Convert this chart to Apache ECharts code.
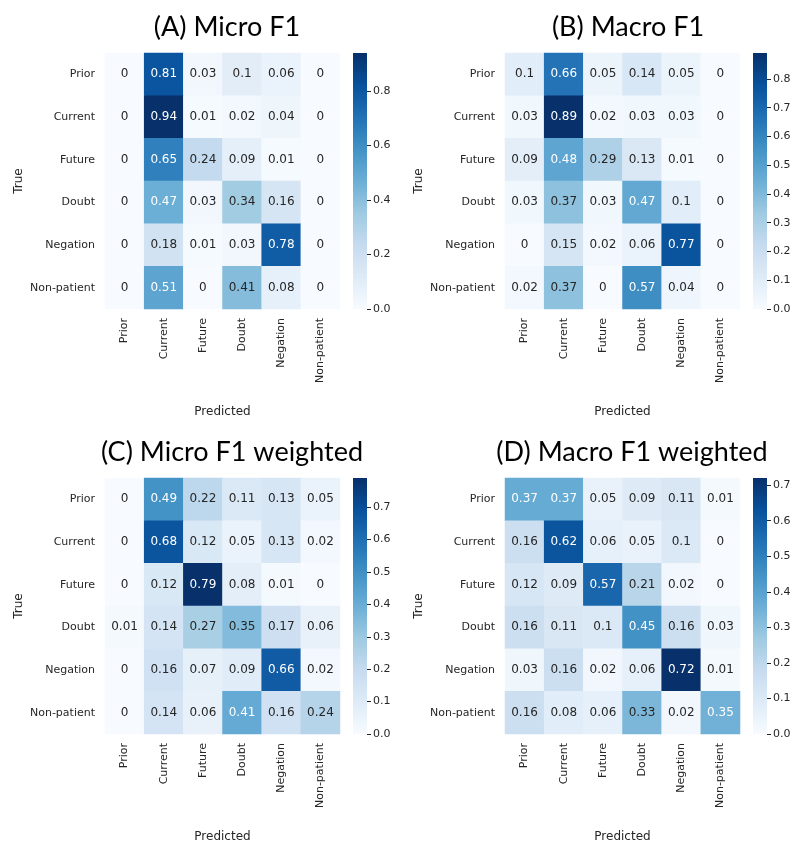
<!DOCTYPE html>
<html>
<head>
<meta charset="utf-8">
<script src="https://cdn.jsdelivr.net/npm/echarts@6/dist/echarts.min.js"></script>
<style>
  html, body { margin: 0; padding: 0; background: #fff; }
  #main { width: 797px; height: 846px; }
</style>
</head>
<body>
<div id="main"></div>
<script>
  const classes = ['Prior', 'Current', 'Future', 'Doubt', 'Negation', 'Non-patient']
  const titles = ['(A) Micro F1', '(B) Macro F1', '(C) Micro F1 weighted', '(D) Macro F1 weighted']

  // rows = true class, columns = predicted class
  const microF1 = [
    [0, 0.81, 0.03, 0.1, 0.06, 0],
    [0, 0.94, 0.01, 0.02, 0.04, 0],
    [0, 0.65, 0.24, 0.09, 0.01, 0],
    [0, 0.47, 0.03, 0.34, 0.16, 0],
    [0, 0.18, 0.01, 0.03, 0.78, 0],
    [0, 0.51, 0, 0.41, 0.08, 0]
  ]
  const macroF1 = [
    [0.1, 0.66, 0.05, 0.14, 0.05, 0],
    [0.03, 0.89, 0.02, 0.03, 0.03, 0],
    [0.09, 0.48, 0.29, 0.13, 0.01, 0],
    [0.03, 0.37, 0.03, 0.47, 0.1, 0],
    [0, 0.15, 0.02, 0.06, 0.77, 0],
    [0.02, 0.37, 0, 0.57, 0.04, 0]
  ]
  const microF1Weighted = [
    [0, 0.49, 0.22, 0.11, 0.13, 0.05],
    [0, 0.68, 0.12, 0.05, 0.13, 0.02],
    [0, 0.12, 0.79, 0.08, 0.01, 0],
    [0.01, 0.14, 0.27, 0.35, 0.17, 0.06],
    [0, 0.16, 0.07, 0.09, 0.66, 0.02],
    [0, 0.14, 0.06, 0.41, 0.16, 0.24]
  ]
  const macroF1Weighted = [
    [0.37, 0.37, 0.05, 0.09, 0.11, 0.01],
    [0.16, 0.62, 0.06, 0.05, 0.1, 0],
    [0.12, 0.09, 0.57, 0.21, 0.02, 0],
    [0.16, 0.11, 0.1, 0.45, 0.16, 0.03],
    [0.03, 0.16, 0.02, 0.06, 0.72, 0.01],
    [0.16, 0.08, 0.06, 0.33, 0.02, 0.35]
  ]

  // colorbar range and ticks per panel
  const barMax = [0.94, 0.89, 0.79, 0.72]
  const barTicksA = [0, 0.2, 0.4, 0.6, 0.8]
  const barTicksB = [0, 0.1, 0.2, 0.3, 0.4, 0.5, 0.6, 0.7, 0.8]
  const barTicksC = [0, 0.1, 0.2, 0.3, 0.4, 0.5, 0.6, 0.7]
  const barTicksD = [0, 0.1, 0.2, 0.3, 0.4, 0.5, 0.6, 0.7]

  const matrices = [microF1, macroF1, microF1Weighted, macroF1Weighted]
  const barTicks = [barTicksA, barTicksB, barTicksC, barTicksD]

  // matplotlib "Blues"
  const blues = ['#f7fbff', '#deebf7', '#c6dbef', '#9ecae1', '#6baed6', '#4292c6', '#2171b5', '#08519c', '#08306b']

  const panels = [
    {left: 105, top: 53, title: 222},
    {left: 505, top: 53, title: 623},
    {left: 105, top: 478, title: 227},
    {left: 505, top: 478, title: 627}
  ]
  const cellW = 235
  const cellH = 256
  const txt = '#262626'

  const myChart = echarts.init(document.getElementById('main'))

  let grid = []
  let xAxis = []
  let yAxis = []
  let series = []
  let visualMap = []
  let title = []

  panels.forEach((p, i) => {
    const max = barMax[i]
    title.push({
      text: titles[i],
      left: p.title,
      top: p.top - 44,
      textAlign: 'center',
      textStyle: {fontFamily: 'Lato', fontSize: 27, fontWeight: 'normal', color: '#000'}
    })
    // heatmap grid
    grid.push({left: p.left, top: p.top, width: cellW, height: cellH})
    xAxis.push({
      type: 'category',
      gridIndex: i * 2,
      data: classes,
      name: 'Predicted',
      nameLocation: 'middle',
      nameGap: 97,
      nameTextStyle: {color: txt, fontSize: 12, fontFamily: 'DejaVu Sans'},
      axisLine: {show: false},
      axisTick: {show: false},
      splitLine: {show: false},
      axisLabel: {interval: 0, rotate: 90, margin: 9, color: txt, fontSize: 11, fontFamily: 'DejaVu Sans'}
    })
    yAxis.push({
      type: 'category',
      gridIndex: i * 2,
      data: classes,
      inverse: true,
      name: 'True',
      nameLocation: 'middle',
      nameGap: 80,
      nameTextStyle: {color: txt, fontSize: 12, fontFamily: 'DejaVu Sans'},
      axisLine: {show: false},
      axisTick: {show: false},
      splitLine: {show: false},
      axisLabel: {interval: 0, margin: 10, color: txt, fontSize: 11, fontFamily: 'DejaVu Sans'}
    })
    // colorbar grid
    grid.push({left: p.left + 248, top: p.top, width: 14, height: cellH})
    xAxis.push({type: 'category', gridIndex: i * 2 + 1, data: ['c'], show: false})
    yAxis.push({
      type: 'value',
      gridIndex: i * 2 + 1,
      position: 'right',
      min: 0,
      max: max,
      axisLine: {show: false},
      splitLine: {show: false},
      axisTick: {show: true, length: 4, lineStyle: {color: txt}, customValues: barTicks[i]},
      axisLabel: {color: txt, fontSize: 11, fontFamily: 'DejaVu Sans', margin: 6, customValues: barTicks[i],
        formatter: v => v.toFixed(1)}
    })

    let cells = []
    matrices[i].forEach((row, r) => {
      row.forEach((v, c) => {
        cells.push({
          value: [c, r, v],
          label: {color: v / max >= 0.47 ? '#ffffff' : txt}
        })
      })
    })
    visualMap.push({
      type: 'continuous',
      show: false,
      seriesIndex: i * 2,
      dimension: 2,
      min: 0,
      max: max,
      inRange: {color: blues}
    })
    series.push({
      type: 'heatmap',
      xAxisIndex: i * 2,
      yAxisIndex: i * 2,
      data: cells,
      label: {show: true, fontSize: 12, fontFamily: 'DejaVu Sans', formatter: d => String(d.value[2])},
      emphasis: {disabled: true}
    })
    series.push({
      type: 'bar',
      xAxisIndex: i * 2 + 1,
      yAxisIndex: i * 2 + 1,
      data: [max],
      barWidth: '100%',
      silent: true,
      itemStyle: {
        color: new echarts.graphic.LinearGradient(0, 0, 0, 1,
          blues.slice().reverse().map((col, k) => ({offset: k / (blues.length - 1), color: col})))
      }
    })
  })

  myChart.setOption({
    animation: false,
    title: title,
    tooltip: {show: false},
    grid: grid,
    xAxis: xAxis,
    yAxis: yAxis,
    visualMap: visualMap,
    series: series
  })
</script>
</body>
</html>
